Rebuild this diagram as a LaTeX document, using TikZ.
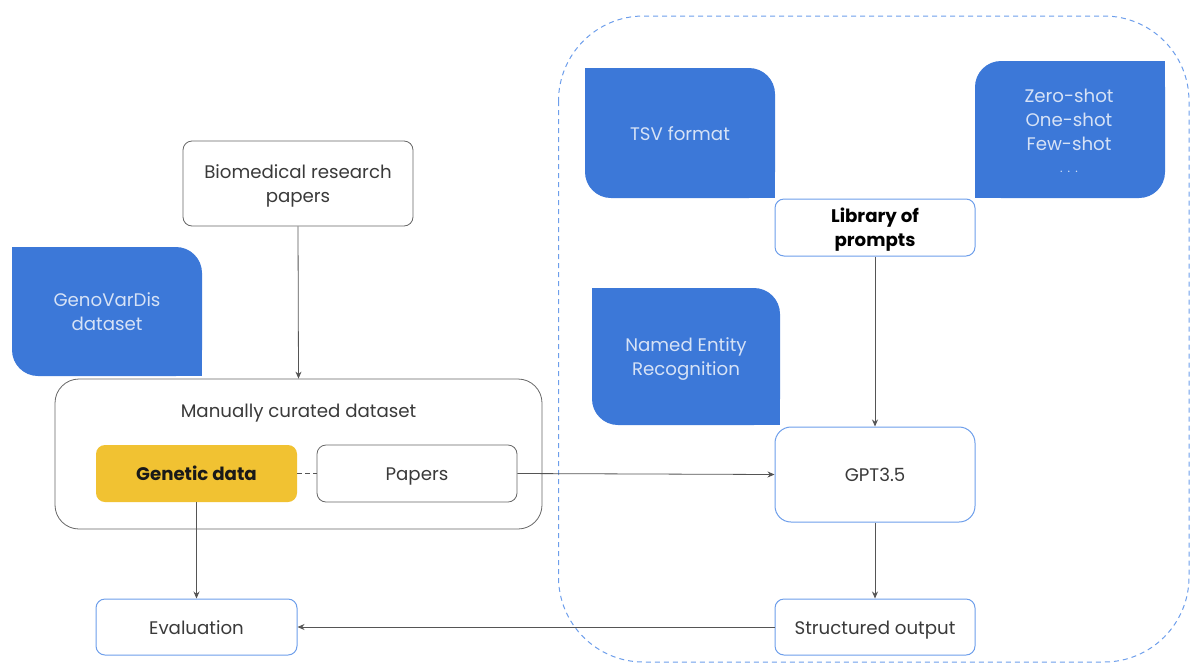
\documentclass[tikz,border=0pt]{standalone}
\usepackage{fontspec}
\setmainfont{Poppins}
\usetikzlibrary{arrows.meta}
\definecolor{tabblue}{HTML}{3C78D8}
\definecolor{tabtext}{HTML}{D6E2F6}
\definecolor{lineblue}{HTML}{6D9EEB}
\definecolor{graybd}{HTML}{666666}
\definecolor{arrowgray}{HTML}{555555}
\definecolor{gold}{HTML}{F1C232}
\definecolor{txt}{HTML}{3A3A3A}
\newcommand\tstrut{\rule{0pt}{19pt}}
\newcommand\fsz{\fontsize{18.2}{24.5}\selectfont}
\tikzset{
  tab/.style={fill=tabblue, rounded corners=26pt, text=tabtext, align=center, inner sep=0pt,
    font=\fsz\fontseries{l}\selectfont},
  bluebox/.style={draw=lineblue, line width=1pt, fill=white, rounded corners=9pt, align=center,
    text=txt, inner sep=0pt, font=\fsz\fontseries{l}\selectfont},
  graybox/.style={draw=graybd, line width=0.8pt, fill=white, rounded corners=9pt, align=center,
    text=txt, inner sep=0pt, font=\fsz\fontseries{l}\selectfont},
  oneline/.style={text height=15pt, text depth=0.5pt},
  conn/.style={draw=arrowgray, line width=0.8pt, -{Stealth[length=7pt,width=6pt]}},
}
\begin{document}
\begin{tikzpicture}[x=1pt,y=-1pt]
\useasboundingbox (0,0) rectangle (1190,662);
% container
\draw[lineblue, line width=1pt, dash pattern=on 5pt off 4pt, rounded corners=85pt]
  (558.5,16) rectangle (1189,662);
% blue tabs
\node[tab, oneline, minimum width=190pt, minimum height=130pt] (tsv) at (680,133) {TSV format};
\fill[tabblue] (tsv.north west) rectangle ++(30,30);
\fill[tabblue] (tsv.south east) rectangle ++(-30,-30);
\node[tab, minimum width=190pt, minimum height=137pt] (shots) at (1070,129.5) {};
\fill[tabblue] (shots.north east) rectangle ++(-30,30);
\fill[tabblue] (shots.south west) rectangle ++(30,-30);
\node[text=tabtext, align=center, inner sep=0pt, font=\fontsize{18.2}{24}\selectfont\fontseries{l}\selectfont] (shotstxt) at (1069,130.5) {Zero-shot\\One-shot\\Few-shot\\[-2pt]{\fontsize{12}{14}\selectfont .\hspace{5pt}.\hspace{5pt}.}};
\node[tab, minimum width=188pt, minimum height=137pt] (ner) at (686,356.5) {\tstrut Named Entity\\Recognition};
\fill[tabblue] (ner.north west) rectangle ++(30,30);
\fill[tabblue] (ner.south east) rectangle ++(-30,-30);
\node[tab, minimum width=190pt, minimum height=129pt] (geno) at (107,311.5) {GenoVarDis\\dataset};
\fill[tabblue] (geno.north west) rectangle ++(30,30);
\fill[tabblue] (geno.south east) rectangle ++(-30,-30);
% right column
\node[bluebox, minimum width=200pt, minimum height=57pt, font=\fsz\bfseries, text=black] (lib) at (875,227.5) {\tstrut Library of\\prompts};
\node[bluebox, oneline, rounded corners=16pt, minimum width=200pt, minimum height=95pt] (gpt) at (875,474.5) {GPT3.5};
\node[bluebox, oneline, minimum width=200pt, minimum height=56pt] (struct) at (875,627) {Structured output};
\node[bluebox, oneline, minimum width=201pt, minimum height=56pt] (eval) at (196.5,627) {Evaluation};
% left column
\node[graybox, minimum width=230pt, minimum height=85pt] (bio) at (298,183.5) {\tstrut Biomedical research\\papers};
\node[graybox, rounded corners=24pt, minimum width=487pt, minimum height=150pt] (manual) at (298.5,454) {};
\node[text=txt, oneline, inner sep=0pt, font=\fsz\fontseries{l}\selectfont] (manualtxt) at (298.5,410) {Manually curated dataset};
\node[fill=gold, oneline, rounded corners=9pt, minimum width=201pt, minimum height=57pt, inner sep=0pt,
  font=\fsz\bfseries, text=black!90] (genetic) at (196.5,473.5) {Genetic data};
\node[graybox, oneline, minimum width=200pt, minimum height=57pt] (papers) at (417,473.5) {Papers};
% connectors
\draw[conn] (bio.south) -- (manual.north);
\draw[conn] (lib.south) -- (gpt.north);
\draw[conn] (papers.east) -- (gpt.west);
\draw[conn] (gpt.south) -- (struct.north);
\draw[conn] (genetic.south) -- (eval.north);
\draw[conn] (struct.west) -- (eval.east);
\draw[arrowgray, line width=0.8pt, dash pattern=on 5pt off 3pt] (genetic.east) -- (papers.west);
\end{tikzpicture}
\end{document}
